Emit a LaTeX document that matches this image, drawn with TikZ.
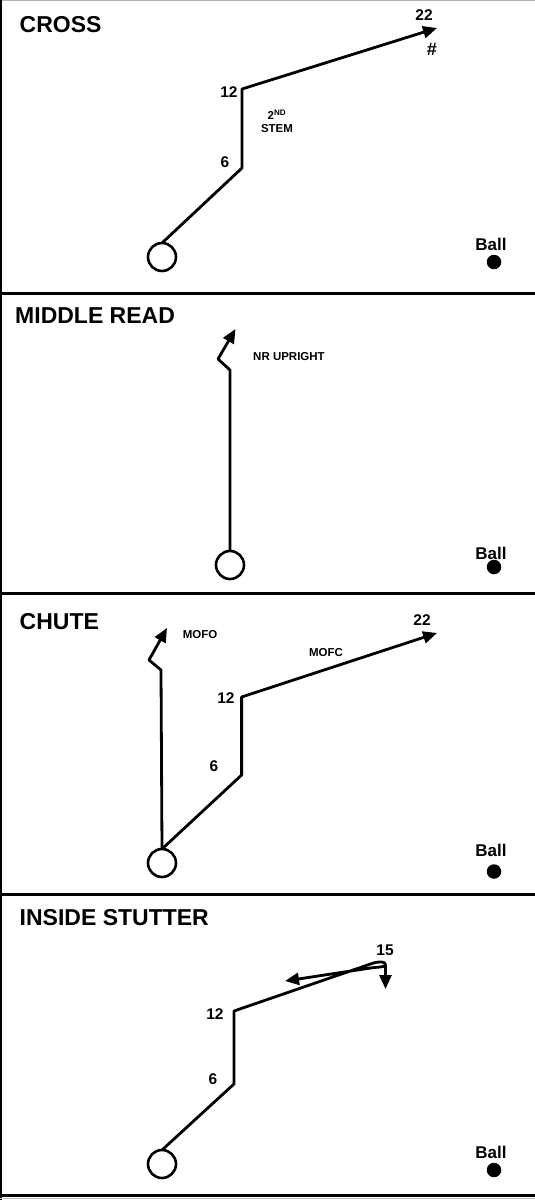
\documentclass[tikz,border=0pt]{standalone}
\usepackage{fontspec}
\setmainfont{Liberation Sans}
\usetikzlibrary{arrows.meta}
\begin{document}
\begin{tikzpicture}[x=1pt,y=-1pt,
  route/.style={line width=2.8pt,line join=round},
  arr/.style={route,-{Triangle[length=14pt,width=12pt]}},
  player/.style={circle,draw,line width=2.6pt,minimum size=28pt,inner sep=0pt,outer sep=0pt},
  balldot/.style={circle,fill,minimum size=14.5pt,inner sep=0pt},
  ptitle/.style={anchor=base west,inner sep=0pt,font=\fontsize{23}{23}\selectfont\bfseries},
  num/.style={inner sep=0pt,font=\fontsize{15.5}{15.5}\selectfont\bfseries},
  lbl/.style={inner sep=0pt,font=\fontsize{11.5}{11.5}\selectfont\bfseries},
  balltxt/.style={inner sep=0pt,font=\fontsize{17}{17}\selectfont\bfseries},
  sepline/.style={line width=3pt}]
\useasboundingbox (0,0) rectangle (535,1200);
\fill[white] (0,0) rectangle (535,1200);
% frame
\draw[gray!60,line width=1pt] (0,0.5) -- (535,0.5);
\draw[line width=2pt] (1,0) -- (1,1200);
\draw[sepline] (0,293) -- (535,293);
\draw[sepline] (0,593.5) -- (535,593.5);
\draw[sepline] (0,894) -- (535,894);
\draw[sepline] (0,1195) -- (535,1195);
\draw[gray!50,line width=1pt] (0,1198.5) -- (535,1198.5);

% ---------- CROSS ----------
\node[ptitle] (t1) at (19.5,32) {CROSS};
\node[player] (p1) at (162,257) {};
\coordinate (a6) at (242,168);
\coordinate (a12) at (242,89);
\coordinate (a22) at (437,28);
\draw[arr] (p1.north) -- (a6) -- (a12) -- (a22);
\node[num] (a22l) at (424,15) {22};
\node[num,font=\fontsize{18}{18}\selectfont\bfseries] (ahash) at (432,49) {\#};
\node[num] (a12l) at (229,92) {12};
\node[num] (a6l) at (225,162) {6};
\node[lbl] (a2nd) at (277,115) {2\textsuperscript{ND}};
\node[lbl] (astem) at (277,129) {STEM};
\node[balltxt] (b1t) at (491,244) {Ball};
\node[balldot] (b1) at (494,262) {};

% ---------- MIDDLE READ ----------
\node[ptitle] (t2) at (15,323) {MIDDLE READ};
\node[player] (p2) at (230,565) {};
\coordinate (m1) at (230,370);
\coordinate (m2) at (218,359);
\coordinate (m3) at (235.5,329);
\draw[arr] (p2.north) -- (m1) -- (m2) -- (m3);
\node[lbl] (mnr) at (289,357) {NR UPRIGHT};
\node[balltxt] (b2t) at (491,553) {Ball};
\node[balldot] (b2) at (494,567) {};

% ---------- CHUTE ----------
\node[ptitle] (t3) at (19.5,629) {CHUTE};
\node[player] (p3) at (162,863) {};
\coordinate (o1) at (161,670);
\coordinate (o2) at (149,660);
\coordinate (o3) at (167,628);
\draw[arr] (p3.north) -- (o1) -- (o2) -- (o3);
\coordinate (c6) at (241.6,775);
\coordinate (c12) at (241.6,697);
\coordinate (c22) at (437,633);
\draw[arr] (p3.north) -- (c6) -- (c12) -- (c22);
\node[lbl] (cmofo) at (200,635) {MOFO};
\node[lbl] (cmofc) at (326,653) {MOFC};
\node[num] (c22l) at (422,620) {22};
\node[num] (c12l) at (226,698) {12};
\node[num] (c6l) at (214,766) {6};
\node[balltxt] (b3t) at (491,850) {Ball};
\node[balldot] (b3) at (494,871.5) {};

% ---------- INSIDE STUTTER ----------
\node[ptitle] (t4) at (19.5,925) {INSIDE STUTTER};
\node[player] (p4) at (162,1164) {};
\coordinate (s6) at (234,1084);
\coordinate (s12) at (234,1011);
\coordinate (sL) at (372,963.5);
\coordinate (sR) at (385.5,964.5);
\coordinate (sB) at (374,967.5);
\coordinate (sTip) at (285,981);
\coordinate (sDn) at (385.5,989);
\draw[arr] (p4.north) -- (s6) -- (s12) -- (sL)
  .. controls (379,961) and (385.5,961.5) .. (sR)
  .. controls (385.5,967) and (380,967) .. (sB) -- (sTip);
\draw[arr] (sR) -- (sDn);
\node[num] (s15l) at (385,950) {15};
\node[num] (s12l) at (215,1014) {12};
\node[num] (s6l) at (213,1079) {6};
\node[balltxt] (b4t) at (491,1152.5) {Ball};
\node[balldot] (b4) at (494,1170) {};
\end{tikzpicture}
\end{document}
